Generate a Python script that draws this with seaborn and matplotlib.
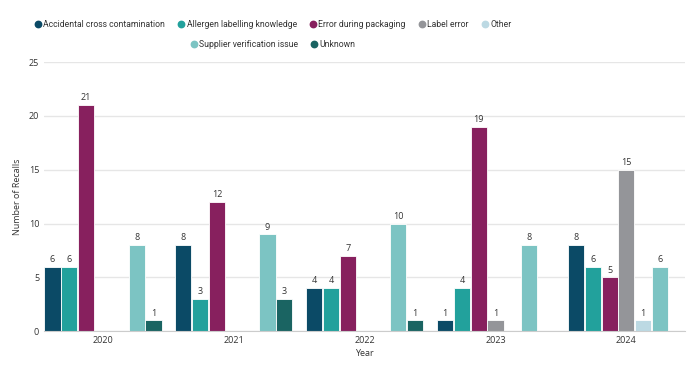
import numpy as np
import pandas as pd
import matplotlib.pyplot as plt
import seaborn as sns
from matplotlib.lines import Line2D

years = ['2020', '2021', '2022', '2023', '2024']
causes = ['Accidental cross contamination', 'Allergen labelling knowledge',
          'Error during packaging', 'Label error', 'Other',
          'Supplier verification issue', 'Unknown']
accidental = [6, 8, 4, 1, 8]
allergen_knowledge = [6, 3, 4, 4, 6]
packaging_error = [21, 12, 7, 19, 5]
label_error = [0, 0, 0, 1, 15]
other = [0, 0, 0, 0, 1]
supplier = [8, 9, 10, 8, 6]
unknown = [1, 3, 1, 0, 0]
colors = ['#0b4a66', '#22a19c', '#87205e', '#949599', '#bcd9e3', '#7cc4c3', '#1a6462']

series = [accidental, allergen_knowledge, packaging_error, label_error, other, supplier, unknown]
df = pd.DataFrame([
    {'Year': y, 'Cause': c, 'Recalls': v}
    for c, vals in zip(causes, series)
    for y, v in zip(years, vals)
])

sns.set_style("white")
plt.rcParams['font.family'] = ['Open Sans', 'DejaVu Sans']
txt = '#333333'

fig = plt.figure(figsize=(7, 3.7), dpi=100)
ax = fig.add_axes([0.063, 0.105, 0.916, 0.727])

sns.barplot(data=df, x='Year', y='Recalls', hue='Cause', hue_order=causes,
            palette=colors, saturation=1, width=0.9, gap=0.04, legend=False,
            ax=ax, edgecolor='white', linewidth=0.6)

for cont in ax.containers:
    labels = [f'{b.get_height():.0f}' if b.get_height() > 0 else '' for b in cont]
    ax.bar_label(cont, labels=labels, padding=2, fontsize=6.5, color=txt)

ax.set_xlim(-0.45, 4.45)
ax.set_ylim(0, 25)
ax.set_yticks([0, 5, 10, 15, 20, 25])
ax.yaxis.grid(True, color='#e6e6e6', linewidth=1)
ax.set_axisbelow(True)
for s in ['top', 'right', 'left']:
    ax.spines[s].set_visible(False)
ax.spines['bottom'].set_color('#cccccc')
ax.tick_params(axis='both', length=0, labelsize=6.5, colors=txt)
ax.set_xlabel('Year', fontsize=6.5, color=txt, labelpad=3)
ax.set_ylabel('Number of Recalls', fontsize=6.5, color=txt, labelpad=5)

def handles(idx):
    return [Line2D([], [], marker='o', linestyle='', markersize=4.6,
                   markerfacecolor=colors[i], markeredgecolor=colors[i],
                   label=causes[i]) for i in idx]

leg_font = {'family': ['Roboto', 'Open Sans'], 'size': 6.2}
leg1 = fig.legend(handles=handles(range(5)), loc='center', ncol=5,
                  bbox_to_anchor=(0.39, 0.935), frameon=False, prop=leg_font,
                  handletextpad=0.2, columnspacing=1.5, handlelength=0.8)
leg2 = fig.legend(handles=handles([5, 6]), loc='center', ncol=2,
                  bbox_to_anchor=(0.39, 0.881), frameon=False, prop=leg_font,
                  handletextpad=0.2, columnspacing=1.5, handlelength=0.8)
for leg in (leg1, leg2):
    for t in leg.get_texts():
        t.set_color(txt)

fig.savefig('out.png', dpi=100)
